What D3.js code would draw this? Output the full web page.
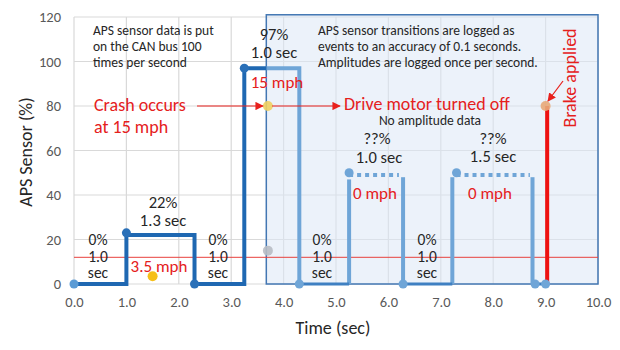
<!DOCTYPE html>
<html><head><meta charset="utf-8">
<script src="https://cdn.jsdelivr.net/npm/d3@7"></script>
<style>body{margin:0;background:#fff}svg{display:block}text{font-family:Calibri,Carlito,"Open Sans",sans-serif}</style>
</head><body>
<svg id="c" width="620" height="350"></svg>
<script>
// ---- data ----
const xTicks = [0,1,2,3,4,5,6,7,8,9,10];
const yTicks = [0,20,40,60,80,100,120];
// recorded (dark) APS trace
const darkTime  = [0, 1.0, 1.0, 2.3, 2.3, 3.25, 3.25, 3.67];
const darkValue = [0, 0,   22,  22,  0,   0,    97,   97];
// logged (light) APS trace, solid parts
const lightTime  = [3.67, 4.3, 4.3];
const lightValue = [97,   97,  0];
const lowTime1 = [4.3, 5.25], lowValue1 = [0, 0];
const lowTime2 = [6.28, 7.22], lowValue2 = [0, 0];
const lowTime3 = [8.75, 9.0], lowValue3 = [0, 0];
const riseTime = [5.25, 6.28, 7.22, 8.75];
const riseTop  = [47, 48, 48, 48];
// unknown amplitude (dotted)
const dotStart = [5.25, 7.3], dotEnd = [6.2, 8.7], dotValue = [49, 49];
// marker points
const markTime  = [0, 1.0, 2.3, 3.25, 4.3, 5.25, 6.28, 7.3, 8.8, 9.0];
const markValue = [0, 23,  0,   97,   0,   50,   0,    50,  0,   0];
const speedTime = [1.5, 3.7, 3.7, 9.0];
const speedValue = [3.5, 80, 15, 80];
const speedColor = ["#f5b800", "#f0d060", "#b8bcc4", "#e8a878"];
const brakeTime = [9.03, 9.03], brakeValue = [0, 80];
const thresholdValue = 12;
const boxStart = 3.67, boxEnd = 10, boxTop = 121;

// ---- chart ----
const svg = d3.select("#c");
const x = d3.scaleLinear().domain([0,10]).range([74,598]);
const y = d3.scaleLinear().domain([0,120]).range([284,17]);
const line = d3.line().x(d=>x(d[0])).y(d=>y(d[1]));
const zip = (a,b)=>a.map((v,i)=>[v,b[i]]);

// grid
svg.append("g").selectAll("line").data(yTicks).join("line")
  .attr("x1",x(0)).attr("x2",x(10)).attr("y1",d=>y(d)).attr("y2",d=>y(d))
  .attr("stroke","#d9d9d9").attr("stroke-width",1.2);
svg.append("g").selectAll("line").data(xTicks).join("line")
  .attr("y1",y(0)).attr("y2",y(120)).attr("x1",d=>x(d)).attr("x2",d=>x(d))
  .attr("stroke","#d9d9d9").attr("stroke-width",1.2);

// shaded box
svg.append("rect").attr("x",x(boxStart)).attr("y",y(boxTop))
  .attr("width",x(boxEnd)-x(boxStart)).attr("height",y(0)-y(boxTop))
  .attr("fill","#dce8f6").attr("fill-opacity",0.55)
  .attr("stroke","#4377b3").attr("stroke-width",1.5);

// axes
const xAxis = d3.axisBottom(x).tickValues(xTicks).tickFormat(d=>d.toFixed(1)).tickSize(0).tickPadding(13);
const yAxis = d3.axisLeft(y).tickValues(yTicks).tickSize(0).tickPadding(13);
const gx = svg.append("g").attr("transform",`translate(0,${y(0)})`).call(xAxis);
const gy = svg.append("g").attr("transform",`translate(${x(0)},0)`).call(yAxis);
[gx,gy].forEach(g=>{g.select(".domain").remove();
  g.selectAll("text").attr("fill","#595959").style("font-size","14.5px");});

// threshold line
svg.append("line").attr("x1",x(0)).attr("x2",x(10))
  .attr("y1",y(thresholdValue)).attr("y2",y(thresholdValue))
  .attr("stroke","#e8403c").attr("stroke-width",1);

// light trace
const light = "#6fa5d7";
svg.append("path").attr("d",line(zip(lightTime,lightValue))).attr("fill","none")
  .attr("stroke",light).attr("stroke-width",4);
riseTime.forEach((t,i)=>{
  svg.append("line").attr("x1",x(t)).attr("x2",x(t)).attr("y1",y(0)).attr("y2",y(riseTop[i]))
    .attr("stroke",light).attr("stroke-width",4);
});
[[lowTime1,lowValue1],[lowTime2,lowValue2],[lowTime3,lowValue3]].forEach(([t,v])=>{
  svg.append("path").attr("d",line(zip(t,v))).attr("fill","none")
    .attr("stroke","#3f80c2").attr("stroke-width",3);
});
dotStart.forEach((s,i)=>{
  svg.append("line").attr("x1",x(s)).attr("x2",x(dotEnd[i])).attr("y1",y(dotValue[i])).attr("y2",y(dotValue[i]))
    .attr("stroke",light).attr("stroke-width",4).attr("stroke-dasharray","4,4");
});

// dark trace
svg.append("path").attr("d",line(zip(darkTime,darkValue))).attr("fill","none")
  .attr("stroke","#1f68b2").attr("stroke-width",4).attr("stroke-linejoin","miter");

// brake line
svg.append("path").attr("d",line(zip(brakeTime,brakeValue))).attr("fill","none")
  .attr("stroke","#ee1111").attr("stroke-width",4);

// markers
svg.append("g").selectAll("circle").data(zip(markTime,markValue)).join("circle")
  .attr("cx",d=>x(d[0])).attr("cy",d=>y(d[1])).attr("r",4.5)
  .attr("fill",(d,i)=> i===0 ? "#5b9bd5" : (i<4 ? "#2a70b8" : light));
svg.append("g").selectAll("circle").data(zip(speedTime,speedValue)).join("circle")
  .attr("cx",d=>x(d[0])).attr("cy",d=>y(d[1])).attr("r",5)
  .attr("fill",(d,i)=>speedColor[i]).attr("opacity",0.9);

// arrows
const defs = svg.append("defs");
defs.append("marker").attr("id","ah").attr("viewBox","0 0 10 10").attr("refX",9).attr("refY",5)
  .attr("markerWidth",7).attr("markerHeight",7).attr("orient","auto")
  .append("path").attr("d","M0,0L10,5L0,10z").attr("fill","#e8201c");
function arrow(x1,y1,x2,y2){
  svg.append("line").attr("x1",x1).attr("y1",y1).attr("x2",x2).attr("y2",y2)
    .attr("stroke","#e8201c").attr("stroke-width",1.2).attr("marker-end","url(#ah)");
}
arrow(197,y(80),263,y(80));
arrow(272,y(80),340,y(80));
arrow(563,81,548,101);

// text
function txt(s,xx,yy,opt={}){
  const t = svg.append("text").attr("x",xx).attr("y",yy).text(s)
    .attr("fill",opt.fill||"#262626").style("font-size",(opt.size||13.5)+"px")
    .attr("text-anchor",opt.anchor||"start");
  if(opt.rotate) t.attr("transform",`rotate(-90,${xx},${yy})`);
  return t;
}
const red = "#e5201c";
txt("APS sensor data is put",93,35);
txt("on the CAN bus 100",93,51);
txt("times per second",93,67);
txt("APS sensor transitions are logged as",318,35);
txt("events to an accuracy of 0.1 seconds.",318,51);
txt("Amplitudes are logged once per second.",318,67);
txt("97%",274,40,{anchor:"middle",size:16.5});
txt("1.0 sec",274,58,{anchor:"middle",size:16.5});
txt("15 mph",277,88,{anchor:"middle",size:17,fill:red});
txt("Crash occurs",94,111,{size:18,fill:red});
txt("at 15 mph",94,133,{size:18,fill:red});
txt("Drive motor turned off",344,110,{size:18,fill:red});
txt("No amplitude data",430,125,{anchor:"middle",size:13.5});
txt("??%",377,144,{anchor:"middle",size:16.5});
txt("1.0 sec",379,163,{anchor:"middle",size:16.5});
txt("??%",493,144,{anchor:"middle",size:16.5});
txt("1.5 sec",493,162,{anchor:"middle",size:16.5});
txt("0 mph",375,199,{anchor:"middle",size:17,fill:red});
txt("0 mph",490,199,{anchor:"middle",size:17,fill:red});
txt("22%",163,208,{anchor:"middle",size:16.5});
txt("1.3 sec",163,226,{anchor:"middle",size:16.5});
[98,218,322,427].forEach(cx=>{
  txt("0%",cx,245,{anchor:"middle",size:15.5});
  txt("1.0",cx,262,{anchor:"middle",size:15.5});
  txt("sec",cx,278,{anchor:"middle",size:15.5});
});
txt("3.5 mph",159,272,{anchor:"middle",size:17,fill:red});
txt("Brake applied",576,78,{anchor:"middle",size:18,fill:red,rotate:true});
txt("APS Sensor (%)",32,152,{anchor:"middle",size:18,rotate:true});
txt("Time (sec)",333,334,{anchor:"middle",size:18});
</script>
</body></html>
